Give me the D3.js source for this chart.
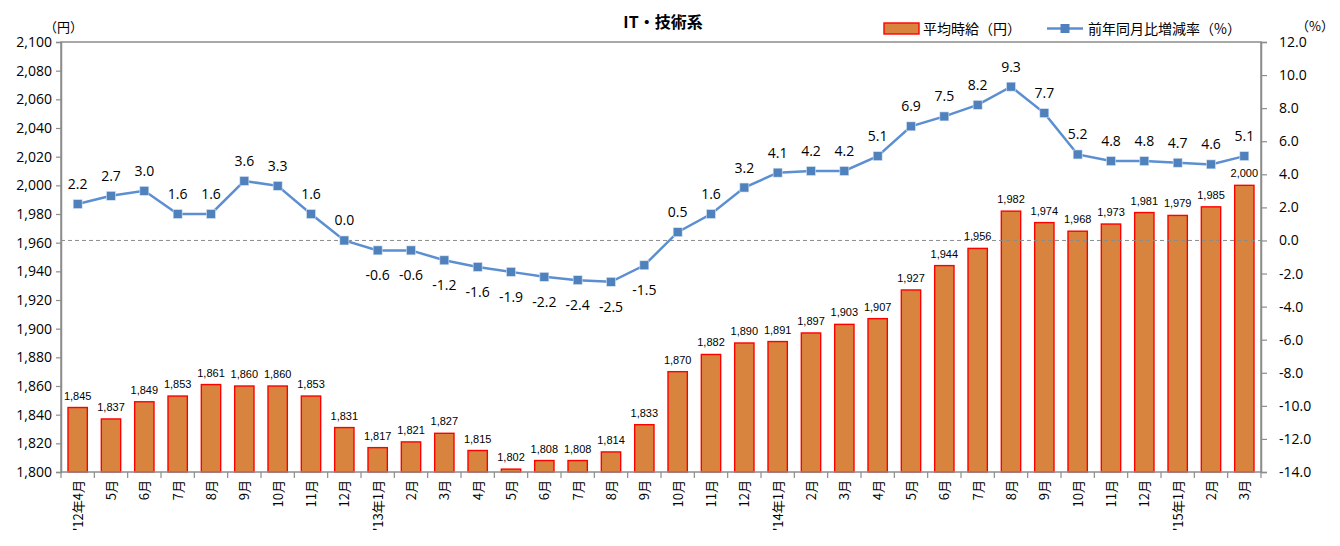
<!DOCTYPE html>
<html>
<head>
<meta charset="utf-8">
<script src="https://cdnjs.cloudflare.com/ajax/libs/d3/7.8.5/d3.min.js"></script>
<style>
    body { margin: 0; background: #fff; }
    #chart { width: 1340px; height: 546px; }
    text { font-family: "Open Sans", "Noto Sans CJK JP", sans-serif; fill: #000; }
    .jp { font-family: "Noto Sans CJK JP", sans-serif; }
</style>
</head>
<body>
<div id="chart"></div>
<script>

// months, Apr 2012 - Mar 2015
var months = ["'12年4月", "5月", "6月", "7月", "8月", "9月", "10月", "11月", "12月",
    "'13年1月", "2月", "3月", "4月", "5月", "6月", "7月", "8月", "9月", "10月", "11月", "12月",
    "'14年1月", "2月", "3月", "4月", "5月", "6月", "7月", "8月", "9月", "10月", "11月", "12月",
    "'15年1月", "2月", "3月"];

// average hourly wage (yen)
var wage = [1845, 1837, 1849, 1853, 1861, 1860, 1860, 1853, 1831, 1817, 1821, 1827,
    1815, 1802, 1808, 1808, 1814, 1833, 1870, 1882, 1890, 1891, 1897, 1903,
    1907, 1927, 1944, 1956, 1982, 1974, 1968, 1973, 1981, 1979, 1985, 2000];

// year-on-year change (%)
var change = [2.2, 2.7, 3.0, 1.6, 1.6, 3.6, 3.3, 1.6, 0.0, -0.6, -0.6, -1.2,
    -1.6, -1.9, -2.2, -2.4, -2.5, -1.5, 0.5, 1.6, 3.2, 4.1, 4.2, 4.2,
    5.1, 6.9, 7.5, 8.2, 9.3, 7.7, 5.2, 4.8, 4.8, 4.7, 4.6, 5.1];

var leftTicks = d3.range(1800, 2101, 20);
var rightTicks = d3.range(-14, 12.1, 2);

var margin = {top: 42, right: 79, bottom: 74, left: 61},
    width = 1340 - margin.left - margin.right,
    height = 546 - margin.top - margin.bottom;

// d3 uses the unicode minus, the original uses a plain hyphen
var fmt1 = function(d) { return d3.format(".1f")(d).replace("−", "-"); };

var svg = d3.select("#chart").append("svg")
        .attr("width", 1340)
        .attr("height", 546),
    g = svg.append("g")
        .attr("transform", "translate(" + margin.left + "," + margin.top + ")");

var idx = months.map(function(d, i) { return i; });

var x = d3.scaleBand()
    .domain(idx)
    .range([0, width])
    .paddingInner(0.42)
    .paddingOuter(0.21);

var yL = d3.scaleLinear().domain([1800, 2100]).range([height, 0]);
var yR = d3.scaleLinear().domain([-14, 12]).range([height, 0]);

var axisColor = "#8c8c8c";

// bars
g.selectAll(".bar")
    .data(wage)
    .enter().append("rect")
    .attr("class", "bar")
    .attr("x", function(d, i) { return x(i); })
    .attr("y", function(d) { return yL(d); })
    .attr("width", x.bandwidth())
    .attr("height", function(d) { return height - yL(d); })
    .attr("fill", "#d9843e")
    .attr("stroke", "#ff0000")
    .attr("stroke-width", 1.4);

// bar labels
g.selectAll(".barlabel")
    .data(wage)
    .enter().append("text")
    .attr("x", function(d, i) { return x(i) + x.bandwidth() / 2; })
    .attr("y", function(d) { return yL(d) - 8; })
    .attr("text-anchor", "middle")
    .style("font-family", "'Liberation Sans', Arial, sans-serif")
    .style("font-size", "11px")
    .text(function(d) { return d3.format(",")(d); });

// zero line of right axis
g.append("line")
    .attr("x1", 0).attr("x2", width)
    .attr("y1", yR(0)).attr("y2", yR(0))
    .attr("stroke", "#8c8c8c")
    .attr("stroke-width", 1)
    .attr("stroke-dasharray", "4,3");

// frame
g.append("rect")
    .attr("width", width)
    .attr("height", height)
    .attr("fill", "none")
    .attr("stroke", axisColor)
    .attr("stroke-width", 1.5);

// left axis
var leftAxis = g.append("g")
    .call(d3.axisLeft(yL).tickValues(leftTicks).tickSize(5).tickPadding(4)
        .tickFormat(d3.format(",")));
// right axis
var rightAxis = g.append("g")
    .attr("transform", "translate(" + width + ",0)")
    .call(d3.axisRight(yR).tickValues(rightTicks).tickSize(6).tickPadding(12)
        .tickFormat(fmt1));

[leftAxis, rightAxis].forEach(function(a) {
    a.select(".domain").attr("stroke", axisColor).attr("stroke-width", 1.5);
    a.selectAll(".tick line").attr("stroke", axisColor).attr("stroke-width", 1.2);
    a.selectAll("text").style("font-size", "14px").style("font-family", "'Open Sans', sans-serif");
});
rightAxis.selectAll("text").attr("text-anchor", "start");

// x axis: ticks between categories
var step = x.step();
g.selectAll(".xtick")
    .data(d3.range(0, months.length + 1))
    .enter().append("line")
    .attr("x1", function(d) { return d * step; })
    .attr("x2", function(d) { return d * step; })
    .attr("y1", height)
    .attr("y2", height + 6)
    .attr("stroke", axisColor)
    .attr("stroke-width", 1.2);

g.selectAll(".xlabel")
    .data(months)
    .enter().append("text")
    .attr("class", "jp")
    .attr("transform", function(d, i) {
        return "translate(" + (x(i) + x.bandwidth() / 2 + 5) + "," + (height + 8) + ") rotate(-90)";
    })
    .attr("text-anchor", "end")
    .style("font-size", "13px")
    .text(function(d) { return d; });

// line
var line = d3.line()
    .x(function(d, i) { return x(i) + x.bandwidth() / 2; })
    .y(function(d) { return yR(d); });

g.append("path")
    .datum(change)
    .attr("fill", "none")
    .attr("stroke", "#5b8fd2")
    .attr("stroke-width", 2.5)
    .attr("d", line);

g.selectAll(".marker")
    .data(change)
    .enter().append("rect")
    .attr("x", function(d, i) { return x(i) + x.bandwidth() / 2 - 4.5; })
    .attr("y", function(d) { return yR(d) - 4.5; })
    .attr("width", 9)
    .attr("height", 9)
    .attr("fill", "#4f81bd")
    .attr("stroke", "#dbe6f4")
    .attr("stroke-width", 0.6);

// line labels: above, except for negative values
g.selectAll(".linelabel")
    .data(change)
    .enter().append("text")
    .attr("x", function(d, i) { return x(i) + x.bandwidth() / 2; })
    .attr("y", function(d) { return d < 0 ? yR(d) + 30 : yR(d) - 15; })
    .attr("text-anchor", "middle")
    .style("font-size", "14px")
    .text(fmt1);

// title
svg.append("text")
    .attr("class", "jp")
    .attr("x", 663)
    .attr("y", 28)
    .attr("text-anchor", "middle")
    .style("font-size", "16px")
    .style("font-weight", "bold")
    .text("IT・技術系");

// units
svg.append("text").attr("class", "jp")
    .attr("x", 44).attr("y", 32)
    .style("font-size", "13px")
    .text("（円）");
svg.append("text").attr("class", "jp")
    .attr("x", 1296).attr("y", 31)
    .style("font-size", "13px")
    .text("（%）");

// legend
var legend = svg.append("g");
legend.append("rect")
    .attr("x", 884).attr("y", 23)
    .attr("width", 35).attr("height", 11)
    .attr("fill", "#d9843e")
    .attr("stroke", "#ff0000")
    .attr("stroke-width", 1.4);
legend.append("text").attr("class", "jp")
    .attr("x", 923).attr("y", 34)
    .style("font-size", "14px")
    .text("平均時給（円）");
legend.append("line")
    .attr("x1", 1047).attr("x2", 1083)
    .attr("y1", 28.5).attr("y2", 28.5)
    .attr("stroke", "#5b8fd2")
    .attr("stroke-width", 2.5);
legend.append("rect")
    .attr("x", 1060.5).attr("y", 24)
    .attr("width", 9).attr("height", 9)
    .attr("fill", "#4f81bd");
legend.append("text").attr("class", "jp")
    .attr("x", 1088).attr("y", 34)
    .style("font-size", "14px")
    .text("前年同月比増減率（%）");

</script>
</body>
</html>
